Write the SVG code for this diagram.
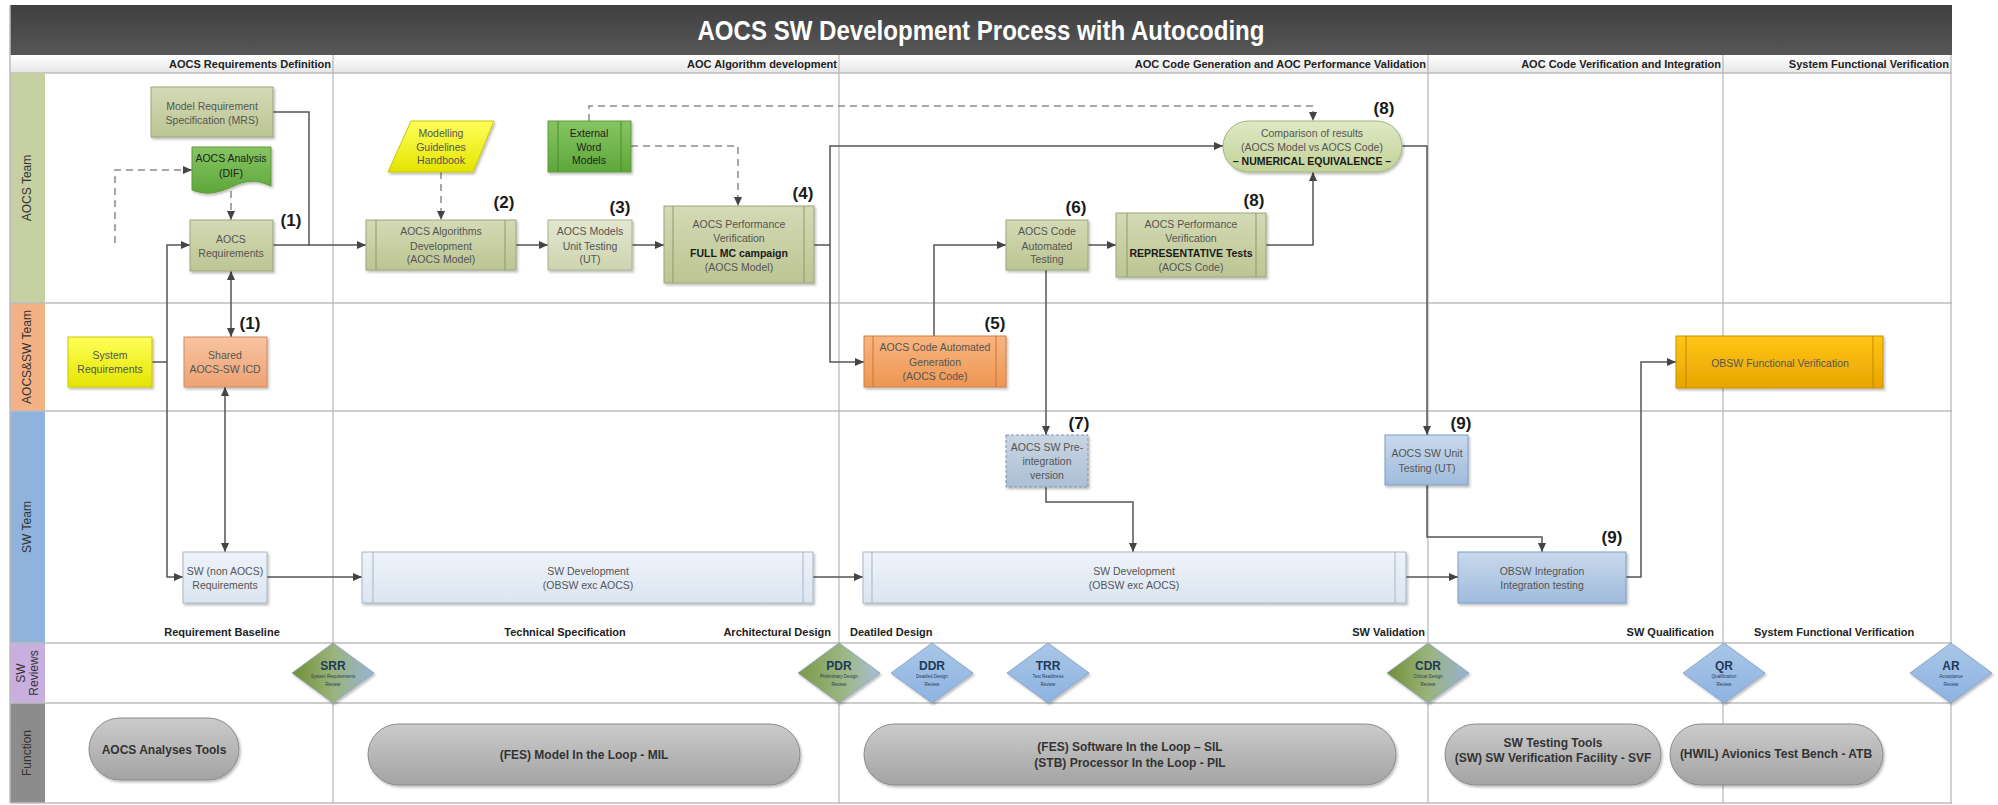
<svg xmlns="http://www.w3.org/2000/svg" width="1998" height="805" viewBox="0 0 1998 805">
<style>
text{font-family:"Liberation Sans",Arial,sans-serif}
.nt{font-size:10.5px;fill:#555;text-anchor:middle}
.nd{fill:#222}
.nb{font-weight:bold;fill:#1a1a1a}
.num{font-size:17px;font-weight:bold;fill:#1a1a1a;text-anchor:middle}
.ph{font-size:11px;font-weight:bold;fill:#222;text-anchor:end}
.pb{font-size:11px;font-weight:bold;fill:#222}
.lane{font-size:12px;fill:#333;text-anchor:middle;dominant-baseline:central}
.fn{font-size:12px;font-weight:bold;fill:#333;text-anchor:middle}
.dt{font-size:12px;font-weight:bold;fill:#1f3a5a;text-anchor:middle}
.ds{font-size:4.5px;fill:#1f3a5a;text-anchor:middle}
.conn{fill:none;stroke:#555;stroke-width:1.5}
.dash{stroke:#8a8a8a;stroke-dasharray:7,5}
.sep{stroke:#bdbdbd;stroke-width:1.5}
.vdiv{stroke:#b5b5b5;stroke-width:1.2}
.side{stroke-width:1;fill:none}
.sh{filter:url(#shadow)}
</style>
<defs>
<filter id="shadow" x="-10%" y="-10%" width="130%" height="140%">
<feDropShadow dx="1.5" dy="2" stdDeviation="1.2" flood-color="#000" flood-opacity="0.25"/>
</filter>
<marker id="arr" markerUnits="userSpaceOnUse" markerWidth="9" markerHeight="9" viewBox="0 0 9 9" refX="9" refY="4.5" orient="auto-start-reverse">
<path d="M0,0.5 L9,4.5 L0,8.5 Z" fill="#444"/>
</marker>
<linearGradient id="gTitle" x1="0" y1="0" x2="0" y2="1"><stop offset="0" stop-color="#3f3f3f"/><stop offset="1" stop-color="#575757"/></linearGradient>
<linearGradient id="gHead" x1="0" y1="0" x2="0" y2="1"><stop offset="0" stop-color="#ffffff"/><stop offset="1" stop-color="#e6e6e6"/></linearGradient>
<linearGradient id="gOlive" x1="0" y1="0" x2="0" y2="1"><stop offset="0" stop-color="#d4dab5"/><stop offset="1" stop-color="#bcc593"/></linearGradient>
<linearGradient id="gOliveL" x1="0" y1="0" x2="0" y2="1"><stop offset="0" stop-color="#e2e7cf"/><stop offset="1" stop-color="#cdd4b0"/></linearGradient>
<linearGradient id="gCmp" x1="0" y1="0" x2="0" y2="1"><stop offset="0" stop-color="#dfe8c4"/><stop offset="1" stop-color="#c3d298"/></linearGradient>
<linearGradient id="gGreen" x1="0" y1="0" x2="0" y2="1"><stop offset="0" stop-color="#86c562"/><stop offset="1" stop-color="#5ea73a"/></linearGradient>
<linearGradient id="gYellow" x1="0" y1="0" x2="0" y2="1"><stop offset="0" stop-color="#ffff5a"/><stop offset="1" stop-color="#e4e400"/></linearGradient>
<linearGradient id="gOrange" x1="0" y1="0" x2="0" y2="1"><stop offset="0" stop-color="#f8c4a0"/><stop offset="1" stop-color="#eea274"/></linearGradient>
<linearGradient id="gOrange2" x1="0" y1="0" x2="0" y2="1"><stop offset="0" stop-color="#f9b580"/><stop offset="1" stop-color="#ee9652"/></linearGradient>
<linearGradient id="gGold" x1="0" y1="0" x2="0" y2="1"><stop offset="0" stop-color="#ffc515"/><stop offset="1" stop-color="#e8a500"/></linearGradient>
<linearGradient id="gBlue" x1="0" y1="0" x2="0" y2="1"><stop offset="0" stop-color="#c9d9ec"/><stop offset="1" stop-color="#9fbbdc"/></linearGradient>
<linearGradient id="gBlueP" x1="0" y1="0" x2="0" y2="1"><stop offset="0" stop-color="#c9d5e3"/><stop offset="1" stop-color="#adbfd5"/></linearGradient>
<linearGradient id="gBlueL" x1="0" y1="0" x2="0" y2="1"><stop offset="0" stop-color="#eef3f9"/><stop offset="1" stop-color="#dbe5f1"/></linearGradient>
<linearGradient id="gGray" x1="0" y1="0" x2="0" y2="1"><stop offset="0" stop-color="#cbcbcb"/><stop offset="1" stop-color="#a3a3a3"/></linearGradient>
<linearGradient id="gDiaG" x1="0" y1="0" x2="1" y2="0"><stop offset="0" stop-color="#6f8f35"/><stop offset="0.5" stop-color="#9bb37a"/><stop offset="1" stop-color="#95b3d7"/></linearGradient>
<linearGradient id="gDiaP" x1="0" y1="0" x2="1" y2="0"><stop offset="0" stop-color="#7a9a48"/><stop offset="0.6" stop-color="#9fb88a"/><stop offset="1" stop-color="#a4bfd8"/></linearGradient>
<linearGradient id="gDiaB" x1="0" y1="0" x2="0" y2="1"><stop offset="0" stop-color="#a9c6e6"/><stop offset="1" stop-color="#8db3e2"/></linearGradient>
</defs>

<!-- background / frame -->
<g id="frame">
<rect x="0" y="0" width="1998" height="805" fill="#ffffff"/>
<rect x="10" y="5" width="1942" height="50" fill="url(#gTitle)"/>
<text x="981" y="40" font-size="27" font-weight="bold" fill="#ffffff" text-anchor="middle" textLength="567" lengthAdjust="spacingAndGlyphs">AOCS SW Development Process with Autocoding</text>
<rect x="10" y="55" width="1942" height="18" fill="url(#gHead)"/>
<line x1="10" y1="73" x2="1952" y2="73" class="sep"/>
<!-- lane label column -->
<rect x="10" y="73" width="35" height="230" fill="#c6d0a3"/>
<rect x="10" y="303" width="35" height="108" fill="#f2b286"/>
<rect x="10" y="411" width="35" height="232" fill="#8fb3dc"/>
<rect x="10" y="643" width="35" height="60" fill="#c9aee0"/>
<rect x="10" y="703" width="35" height="100" fill="#8c8c8c"/>
<text class="lane" transform="translate(27,188) rotate(-90)">AOCS Team</text>
<text class="lane" transform="translate(27,357) rotate(-90)">AOCS&amp;SW Team</text>
<text class="lane" transform="translate(27,527) rotate(-90)">SW Team</text>
<text class="lane" transform="translate(21,673) rotate(-90)">SW</text>
<text class="lane" transform="translate(34,673) rotate(-90)">Reviews</text>
<text class="lane" transform="translate(27,753) rotate(-90)">Function</text>
<!-- lane separators -->
<line x1="10" y1="303" x2="1952" y2="303" class="sep"/>
<line x1="10" y1="411" x2="1952" y2="411" class="sep"/>
<line x1="10" y1="643" x2="1952" y2="643" class="sep"/>
<line x1="10" y1="703" x2="1952" y2="703" class="sep"/>
<line x1="10" y1="803" x2="1952" y2="803" class="sep"/>
<line x1="10" y1="5" x2="10" y2="803" class="sep"/>
<!-- phase dividers -->
<line x1="333" y1="55" x2="333" y2="803" class="vdiv"/>
<line x1="839" y1="55" x2="839" y2="803" class="vdiv"/>
<line x1="1428" y1="55" x2="1428" y2="803" class="vdiv"/>
<line x1="1723" y1="55" x2="1723" y2="803" class="vdiv"/>
<line x1="1951" y1="55" x2="1951" y2="803" class="vdiv"/>
<!-- phase headers -->
<text class="ph" x="331" y="68">AOCS Requirements Definition</text>
<text class="ph" x="837" y="68">AOC Algorithm development</text>
<text class="ph" x="1426" y="68">AOC Code Generation and AOC Performance Validation</text>
<text class="ph" x="1721" y="68">AOC Code Verification and Integration</text>
<text class="ph" x="1949" y="68">System Functional Verification</text>
<!-- phase bottom labels -->
<text class="pb" x="222" y="636" text-anchor="middle">Requirement Baseline</text>
<text class="pb" x="565" y="636" text-anchor="middle">Technical Specification</text>
<text class="pb" x="831" y="636" text-anchor="end">Architectural Design</text>
<text class="pb" x="850" y="636">Deatiled Design</text>
<text class="pb" x="1425" y="636" text-anchor="end">SW Validation</text>
<text class="pb" x="1714" y="636" text-anchor="end">SW Qualification</text>
<text class="pb" x="1754" y="636">System Functional Verification</text>
</g>

<!-- connectors -->
<g id="connectors">
<path class="conn" d="M273,112 H309 V245 H366" marker-end="url(#arr)"/>
<path class="conn" d="M273,245 H309"/>
<path class="conn dash" d="M115,243 V170 H192" marker-end="url(#arr)"/>
<path class="conn dash" d="M231,191 V220" marker-end="url(#arr)"/>
<path class="conn" d="M152,362 H167"/>
<path class="conn" d="M167,362 V245 H190" marker-end="url(#arr)"/>
<path class="conn" d="M167,362 V577 H183" marker-end="url(#arr)"/>
<path class="conn" d="M231,271 V337" marker-start="url(#arr)" marker-end="url(#arr)"/>
<path class="conn" d="M225,387 V552" marker-start="url(#arr)" marker-end="url(#arr)"/>
<path class="conn dash" d="M441,172 V220" marker-end="url(#arr)"/>
<path class="conn" d="M516,245 H548" marker-end="url(#arr)"/>
<path class="conn" d="M632,245 H664" marker-end="url(#arr)"/>
<path class="conn dash" d="M631,146 H738 V206" marker-end="url(#arr)"/>
<path class="conn dash" d="M589,121 V106 H1313 V121" marker-end="url(#arr)"/>
<path class="conn" d="M814,245 H830 V146 H1223" marker-end="url(#arr)"/>
<path class="conn" d="M830,245 V362 H864" marker-end="url(#arr)"/>
<path class="conn" d="M934,336 V245 H1006" marker-end="url(#arr)"/>
<path class="conn" d="M1088,245 H1116" marker-end="url(#arr)"/>
<path class="conn" d="M1266,245 H1313 V172" marker-end="url(#arr)"/>
<path class="conn" d="M1046,270 V435" marker-end="url(#arr)"/>
<path class="conn" d="M1402,146 H1427 V435" marker-end="url(#arr)"/>
<path class="conn" d="M1046,487 V502 H1133 V552" marker-end="url(#arr)"/>
<path class="conn" d="M1427,485 V537 H1542 V552" marker-end="url(#arr)"/>
<path class="conn" d="M1626,577 H1641 V362 H1676" marker-end="url(#arr)"/>
<path class="conn" d="M267,577 H362" marker-end="url(#arr)"/>
<path class="conn" d="M813,577 H863" marker-end="url(#arr)"/>
<path class="conn" d="M1406,577 H1458" marker-end="url(#arr)"/>
</g>

<!-- AOCS Team lane nodes -->
<g id="n-mrs">
<rect class="sh" x="151" y="87" width="122" height="50" fill="url(#gOlive)" stroke="#9aa57a"/>
<text class="nt" x="212" y="110">Model Requirement</text>
<text class="nt" x="212" y="124">Specification (MRS)</text>
</g>
<g id="n-analysis">
<path class="sh" d="M192,147 H271 V186 C256,179 246,180 231,187 C216,194 205,195 192,190 Z" fill="url(#gGreen)" stroke="#5c9a3c"/>
<text class="nt nd" x="231" y="162">AOCS Analysis</text>
<text class="nt nd" x="231" y="177">(DIF)</text>
</g>
<g id="n-aocsreq">
<rect class="sh" x="190" y="220" width="83" height="51" fill="url(#gOlive)" stroke="#9aa57a"/>
<text class="nt" x="231" y="243">AOCS</text>
<text class="nt" x="231" y="257">Requirements</text>
<text class="num" x="291" y="226">(1)</text>
</g>
<g id="n-handbook">
<path class="sh" d="M411,121 H494 L473,172 H388 Z" fill="url(#gYellow)" stroke="#c8c800"/>
<text class="nt" x="441" y="137">Modelling</text>
<text class="nt" x="441" y="151">Guidelines</text>
<text class="nt" x="441" y="164">Handbook</text>
</g>
<g id="n-external">
<rect class="sh" x="548" y="121" width="83" height="51" fill="url(#gGreen)" stroke="#5c9a3c"/>
<line class="side" x1="558" y1="121" x2="558" y2="172" stroke="#4f8a32"/>
<line class="side" x1="621" y1="121" x2="621" y2="172" stroke="#4f8a32"/>
<text class="nt nd" x="589" y="137">External</text>
<text class="nt nd" x="589" y="151">Word</text>
<text class="nt nd" x="589" y="164">Models</text>
</g>
<g id="n-algdev">
<rect class="sh" x="366" y="220" width="150" height="50" fill="url(#gOlive)" stroke="#9aa57a"/>
<line class="side" x1="376" y1="220" x2="376" y2="270" stroke="#8d9a68"/>
<line class="side" x1="505" y1="220" x2="505" y2="270" stroke="#8d9a68"/>
<text class="nt" x="441" y="235">AOCS Algorithms</text>
<text class="nt" x="441" y="250">Development</text>
<text class="nt" x="441" y="263">(AOCS Model)</text>
<text class="num" x="504" y="208">(2)</text>
</g>
<g id="n-ut">
<rect class="sh" x="548" y="220" width="84" height="50" fill="url(#gOliveL)" stroke="#a8b18c"/>
<text class="nt" x="590" y="235">AOCS Models</text>
<text class="nt" x="590" y="250">Unit Testing</text>
<text class="nt" x="590" y="263">(UT)</text>
<text class="num" x="620" y="213">(3)</text>
</g>
<g id="n-perfver">
<rect class="sh" x="664" y="206" width="150" height="77" fill="url(#gOlive)" stroke="#9aa57a"/>
<line class="side" x1="673" y1="206" x2="673" y2="283" stroke="#8d9a68"/>
<line class="side" x1="804" y1="206" x2="804" y2="283" stroke="#8d9a68"/>
<text class="nt" x="739" y="228">AOCS Performance</text>
<text class="nt" x="739" y="242">Verification</text>
<text class="nt nb" x="739" y="257">FULL MC campaign</text>
<text class="nt" x="739" y="271">(AOCS Model)</text>
<text class="num" x="803" y="199">(4)</text>
</g>
<g id="n-compare">
<rect class="sh" x="1223" y="121" width="179" height="51" rx="25.5" fill="url(#gCmp)" stroke="#a4b47c"/>
<text class="nt" x="1312" y="137">Comparison of results</text>
<text class="nt" x="1312" y="151">(AOCS Model vs AOCS Code)</text>
<text class="nt nb" x="1312" y="165" font-size="9.5">– NUMERICAL EQUIVALENCE –</text>
<text class="num" x="1384" y="114">(8)</text>
</g>
<g id="n-autotest">
<rect class="sh" x="1006" y="220" width="82" height="50" fill="url(#gOlive)" stroke="#9aa57a"/>
<text class="nt" x="1047" y="235">AOCS Code</text>
<text class="nt" x="1047" y="250">Automated</text>
<text class="nt" x="1047" y="263">Testing</text>
<text class="num" x="1076" y="213">(6)</text>
</g>
<g id="n-perfver2">
<rect class="sh" x="1116" y="213" width="150" height="64" fill="url(#gOlive)" stroke="#9aa57a"/>
<line class="side" x1="1127" y1="213" x2="1127" y2="277" stroke="#8d9a68"/>
<line class="side" x1="1256" y1="213" x2="1256" y2="277" stroke="#8d9a68"/>
<text class="nt" x="1191" y="228">AOCS Performance</text>
<text class="nt" x="1191" y="242">Verification</text>
<text class="nt nb" x="1191" y="257">REPRESENTATIVE Tests</text>
<text class="nt" x="1191" y="271">(AOCS Code)</text>
<text class="num" x="1254" y="206">(8)</text>
</g>

<!-- AOCS&SW Team lane nodes -->
<g id="n-sysreq">
<rect class="sh" x="68" y="337" width="84" height="50" fill="url(#gYellow)" stroke="#c8c800"/>
<text class="nt" x="110" y="359">System</text>
<text class="nt" x="110" y="373">Requirements</text>
</g>
<g id="n-icd">
<rect class="sh" x="184" y="337" width="83" height="50" fill="url(#gOrange)" stroke="#d08a60"/>
<text class="nt" x="225" y="359">Shared</text>
<text class="nt" x="225" y="373">AOCS-SW ICD</text>
<text class="num" x="250" y="329">(1)</text>
</g>
<g id="n-codegen">
<rect class="sh" x="864" y="336" width="142" height="51" fill="url(#gOrange2)" stroke="#cf7f44"/>
<line class="side" x1="873" y1="336" x2="873" y2="387" stroke="#c8763a"/>
<line class="side" x1="996" y1="336" x2="996" y2="387" stroke="#c8763a"/>
<text class="nt" x="935" y="351">AOCS Code Automated</text>
<text class="nt" x="935" y="366">Generation</text>
<text class="nt" x="935" y="380">(AOCS Code)</text>
<text class="num" x="995" y="329">(5)</text>
</g>
<g id="n-obswfunc">
<rect class="sh" x="1676" y="336" width="207" height="52" fill="url(#gGold)" stroke="#c89000"/>
<line class="side" x1="1686" y1="336" x2="1686" y2="388" stroke="#c08a00"/>
<line class="side" x1="1873" y1="336" x2="1873" y2="388" stroke="#c08a00"/>
<text class="nt" x="1780" y="367" fill="#5a4a10">OBSW Functional Verification</text>
</g>

<!-- SW Team lane nodes -->
<g id="n-preint">
<rect class="sh" x="1006" y="435" width="82" height="52" fill="url(#gBlueP)" stroke="#7f93aa" stroke-dasharray="3,2"/>
<text class="nt" x="1047" y="451">AOCS SW Pre-</text>
<text class="nt" x="1047" y="465">integration</text>
<text class="nt" x="1047" y="479">version</text>
<text class="num" x="1079" y="429">(7)</text>
</g>
<g id="n-swut">
<rect class="sh" x="1385" y="435" width="83" height="50" fill="url(#gBlue)" stroke="#7f9cc0"/>
<text class="nt" x="1427" y="457">AOCS SW Unit</text>
<text class="nt" x="1427" y="472">Testing (UT)</text>
<text class="num" x="1461" y="429">(9)</text>
</g>
<g id="n-obswint">
<rect class="sh" x="1458" y="552" width="168" height="51" fill="url(#gBlue)" stroke="#7f9cc0"/>
<text class="nt" x="1542" y="575">OBSW Integration</text>
<text class="nt" x="1542" y="589">Integration testing</text>
<text class="num" x="1612" y="543">(9)</text>
</g>
<g id="n-swreq">
<rect class="sh" x="183" y="552" width="84" height="51" fill="url(#gBlueL)" stroke="#a5b5c8"/>
<text class="nt" x="225" y="575">SW (non AOCS)</text>
<text class="nt" x="225" y="589">Requirements</text>
</g>
<g id="n-swdev1">
<rect class="sh" x="362" y="552" width="451" height="51" fill="url(#gBlueL)" stroke="#a5b5c8"/>
<line class="side" x1="373" y1="552" x2="373" y2="603" stroke="#a5b5c8"/>
<line class="side" x1="803" y1="552" x2="803" y2="603" stroke="#a5b5c8"/>
<text class="nt" x="588" y="575">SW  Development</text>
<text class="nt" x="588" y="589">(OBSW exc AOCS)</text>
</g>
<g id="n-swdev2">
<rect class="sh" x="863" y="552" width="543" height="51" fill="url(#gBlueL)" stroke="#a5b5c8"/>
<line class="side" x1="872" y1="552" x2="872" y2="603" stroke="#a5b5c8"/>
<line class="side" x1="1395" y1="552" x2="1395" y2="603" stroke="#a5b5c8"/>
<text class="nt" x="1134" y="575">SW  Development</text>
<text class="nt" x="1134" y="589">(OBSW exc AOCS)</text>
</g>

<!-- SW Reviews lane -->
<g id="r-srr">
<path class="sh" d="M333,643 L374,673 L333,703 L292,673 Z" fill="url(#gDiaG)" stroke="#8aa0b8" stroke-width="0.8"/>
<text class="dt" x="333" y="670">SRR</text>
<text class="ds" x="333" y="678">System Requirements</text>
<text class="ds" x="333" y="686">Review</text>
</g>
<g id="r-pdr">
<path class="sh" d="M839,643 L880,673 L839,703 L798,673 Z" fill="url(#gDiaP)" stroke="#8aa0b8" stroke-width="0.8"/>
<text class="dt" x="839" y="670">PDR</text>
<text class="ds" x="839" y="678">Preliminary Design</text>
<text class="ds" x="839" y="686">Review</text>
</g>
<g id="r-ddr">
<path class="sh" d="M932,643 L973,673 L932,703 L891,673 Z" fill="url(#gDiaB)" stroke="#7f9cc0" stroke-width="0.8"/>
<text class="dt" x="932" y="670">DDR</text>
<text class="ds" x="932" y="678">Deatiled Design</text>
<text class="ds" x="932" y="686">Review</text>
</g>
<g id="r-trr">
<path class="sh" d="M1048,643 L1089,673 L1048,703 L1007,673 Z" fill="url(#gDiaB)" stroke="#7f9cc0" stroke-width="0.8"/>
<text class="dt" x="1048" y="670">TRR</text>
<text class="ds" x="1048" y="678">Test Readiness</text>
<text class="ds" x="1048" y="686">Review</text>
</g>
<g id="r-cdr">
<path class="sh" d="M1428,643 L1469,673 L1428,703 L1387,673 Z" fill="url(#gDiaG)" stroke="#8aa0b8" stroke-width="0.8"/>
<text class="dt" x="1428" y="670">CDR</text>
<text class="ds" x="1428" y="678">Critical Design</text>
<text class="ds" x="1428" y="686">Review</text>
</g>
<g id="r-qr">
<path class="sh" d="M1724,643 L1765,673 L1724,703 L1683,673 Z" fill="url(#gDiaB)" stroke="#7f9cc0" stroke-width="0.8"/>
<text class="dt" x="1724" y="670">QR</text>
<text class="ds" x="1724" y="678">Qualification</text>
<text class="ds" x="1724" y="686">Review</text>
</g>
<g id="r-ar">
<path class="sh" d="M1951,643 L1992,673 L1951,703 L1910,673 Z" fill="url(#gDiaB)" stroke="#7f9cc0" stroke-width="0.8"/>
<text class="dt" x="1951" y="670">AR</text>
<text class="ds" x="1951" y="678">Acceptance</text>
<text class="ds" x="1951" y="686">Review</text>
</g>

<!-- Function lane -->
<g id="f-analyses">
<rect class="sh" x="89" y="718" width="150" height="62" rx="31" fill="url(#gGray)" stroke="#8a8a8a"/>
<text class="fn" x="164" y="754">AOCS Analyses Tools</text>
</g>
<g id="f-mil">
<rect class="sh" x="368" y="724" width="432" height="61" rx="30.5" fill="url(#gGray)" stroke="#8a8a8a"/>
<text class="fn" x="584" y="759">(FES) Model In the Loop - MIL</text>
</g>
<g id="f-sil">
<rect class="sh" x="864" y="724" width="532" height="61" rx="30.5" fill="url(#gGray)" stroke="#8a8a8a"/>
<text class="fn" x="1130" y="751">(FES) Software In the Loop – SIL</text>
<text class="fn" x="1130" y="767">(STB) Processor In the Loop - PIL</text>
</g>
<g id="f-svf">
<rect class="sh" x="1445" y="724" width="216" height="61" rx="30.5" fill="url(#gGray)" stroke="#8a8a8a"/>
<text class="fn" x="1553" y="747">SW Testing Tools</text>
<text class="fn" x="1553" y="762">(SW) SW Verification Facility - SVF</text>
</g>
<g id="f-atb">
<rect class="sh" x="1670" y="724" width="213" height="61" rx="30.5" fill="url(#gGray)" stroke="#8a8a8a"/>
<text class="fn" x="1776" y="758">(HWIL) Avionics Test Bench - ATB</text>
</g>
</svg>
